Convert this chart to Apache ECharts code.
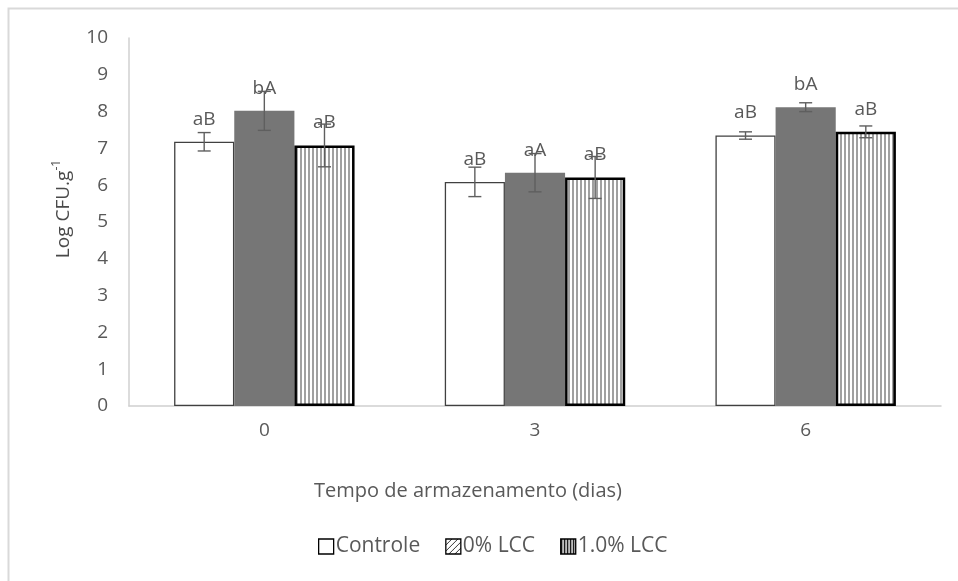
<!DOCTYPE html>
<html>
<head>
<meta charset="utf-8">
<script src="https://cdn.jsdelivr.net/npm/echarts@6/dist/echarts.min.js"></script>
<style>
  html, body { margin: 0; padding: 0; background: #ffffff; }
  #chart { width: 958px; height: 581px; }
</style>
</head>
<body>
<div id="chart"></div>
<script>
// Storage time categories (days)
const categories = ['0', '3', '6'];
const seriesNames = ['Controle', '0% LCC', '1.0% LCC'];

// Mean log CFU per gram for each treatment
const controle = [7.18, 6.09, 7.35];
const lcc0 = [8.02, 6.34, 8.12];
const lcc10 = [7.08, 6.21, 7.45];

// Standard deviations
const controleErr = [0.25, 0.40, 0.10];
const lcc0Err = [0.53, 0.52, 0.12];
const lcc10Err = [0.58, 0.57, 0.16];

// Significance letters above each bar
const controleLetters = ['aB', 'aB', 'aB'];
const lcc0Letters = ['bA', 'aA', 'bA'];
const lcc10Letters = ['aB', 'aB', 'aB'];

const yTicks = { min: 0, max: 10, interval: 1 };

const textColor = '#595959';
const fontFamily = '"Open Sans", "Noto Sans", sans-serif';

function makePattern(size, draw) {
  const c = document.createElement('canvas');
  c.width = size; c.height = size;
  const ctx = c.getContext('2d');
  ctx.fillStyle = '#ffffff';
  ctx.fillRect(0, 0, size, size);
  draw(ctx);
  return { image: c, repeat: 'repeat' };
}

// Vertical gray stripes used to fill the 1.0% LCC bars
const stripeFill = makePattern(4, ctx => {
  ctx.fillStyle = '#a0a0a0';
  ctx.fillRect(0, 0, 2, 4);
});
// Dense black stripes for the legend swatch
const stripeLegend = makePattern(3, ctx => {
  ctx.fillStyle = '#000000';
  ctx.fillRect(0, 0, 1.5, 3);
});
// Diagonal hatch for the 0% LCC legend swatch
const hatchLegend = makePattern(6, ctx => {
  ctx.strokeStyle = '#333333';
  ctx.lineWidth = 1;
  ctx.beginPath();
  ctx.moveTo(0, 6); ctx.lineTo(6, 0);
  ctx.moveTo(-3, 3); ctx.lineTo(3, -3);
  ctx.moveTo(3, 9); ctx.lineTo(9, 3);
  ctx.stroke();
});

const barCategoryGap = 1 / 3;

function errorSeries(values, errs, index) {
  return {
    type: 'custom',
    name: seriesNames[index] + ' err',
    z: 5,
    silent: true,
    renderItem: function (params, api) {
      const x = api.value(0);
      const mean = api.value(1);
      const err = api.value(2);
      const catW = api.size([1, 0])[0];
      const barW = catW * (1 - barCategoryGap) / 3;
      const cx = api.coord([x, 0])[0] + (index - 1) * barW;
      const top = api.coord([x, mean + err])[1];
      const bot = api.coord([x, mean - err])[1];
      const cap = 6.5;
      const style = { stroke: '#5f5f5f', lineWidth: 1.4 };
      return {
        type: 'group',
        children: [
          { type: 'line', shape: { x1: cx, y1: top, x2: cx, y2: bot }, style: style },
          { type: 'line', shape: { x1: cx - cap, y1: top, x2: cx + cap, y2: top }, style: style },
          { type: 'line', shape: { x1: cx - cap, y1: bot, x2: cx + cap, y2: bot }, style: style }
        ]
      };
    },
    data: values.map((v, i) => [i, v, errs[i]])
  };
}

function letterLabel(letters) {
  return {
    show: true,
    position: 'top',
    distance: 13,
    color: textColor,
    fontSize: 19,
    fontFamily: fontFamily,
    formatter: p => letters[p.dataIndex]
  };
}

const chart = echarts.init(document.getElementById('chart'), null, { renderer: 'canvas' });

chart.setOption({
  animation: false,
  backgroundColor: '#ffffff',
  textStyle: { fontFamily: fontFamily, color: textColor },
  graphic: [{
    type: 'rect',
    shape: { x: 8.5, y: 8.5, width: 1000, height: 700 },
    style: { fill: 'none', stroke: '#d9d9d9', lineWidth: 2 },
    silent: true,
    z: -10
  }],
  grid: { left: 129, right: 17, top: 38, bottom: 175, containLabel: false },
  legend: {
    bottom: 19,
    left: 313,
    itemWidth: 15,
    itemHeight: 15,
    itemGap: 25,
    textStyle: { fontSize: 21, color: textColor, fontFamily: fontFamily, padding: [0, 0, 0, -3] },
    data: [
      { name: 'Controle', icon: 'rect', itemStyle: { color: '#ffffff', borderColor: '#000000', borderWidth: 1.3 } },
      { name: '0% LCC', icon: 'rect', itemStyle: { color: hatchLegend, borderColor: '#000000', borderWidth: 1.3 } },
      { name: '1.0% LCC', icon: 'rect', itemStyle: { color: stripeLegend, borderColor: '#000000', borderWidth: 1.3 } }
    ]
  },
  xAxis: {
    type: 'category',
    data: categories,
    name: 'Tempo de armazenamento (dias)',
    nameLocation: 'middle',
    nameGap: 75,
    nameTextStyle: { fontSize: 20, color: textColor, fontFamily: fontFamily, padding: [0, 134, 0, 0] },
    axisLine: { lineStyle: { color: '#d0d0d0', width: 1.5 } },
    axisTick: { show: false },
    axisLabel: { fontSize: 19, color: textColor, margin: 15, fontFamily: fontFamily }
  },
  yAxis: {
    type: 'value',
    min: yTicks.min,
    max: yTicks.max,
    interval: yTicks.interval,
    name: '{n|Log CFU.g}{s|-1}',
    nameLocation: 'middle',
    nameGap: 56,
    nameTextStyle: {
      padding: [0, 0, 0, 26],
      rich: {
        n: { fontSize: 19, color: '#4a4a4a', fontFamily: fontFamily, verticalAlign: 'bottom' },
        s: { fontSize: 12, color: '#4a4a4a', fontFamily: fontFamily, verticalAlign: 'top', padding: [0, 0, 10, 0] }
      }
    },
    axisLine: { show: true, lineStyle: { color: '#d0d0d0', width: 1.5 } },
    axisTick: { show: false },
    splitLine: { show: false },
    axisLabel: { fontSize: 19, color: textColor, margin: 21, fontFamily: fontFamily }
  },
  series: [
    {
      name: 'Controle',
      type: 'bar',
      barGap: '0%',
      barCategoryGap: (barCategoryGap * 100) + '%',
      data: controle,
      itemStyle: { color: '#ffffff', borderColor: '#404040', borderWidth: 1.3 },
      label: letterLabel(controleLetters)
    },
    {
      name: '0% LCC',
      type: 'bar',
      data: lcc0,
      itemStyle: { color: '#767676' },
      label: letterLabel(lcc0Letters)
    },
    {
      name: '1.0% LCC',
      type: 'bar',
      data: lcc10,
      itemStyle: { color: stripeFill, borderColor: '#000000', borderWidth: 2.5 },
      label: letterLabel(lcc10Letters)
    },
    errorSeries(controle, controleErr, 0),
    errorSeries(lcc0, lcc0Err, 1),
    errorSeries(lcc10, lcc10Err, 2)
  ]
});
</script>
</body>
</html>
